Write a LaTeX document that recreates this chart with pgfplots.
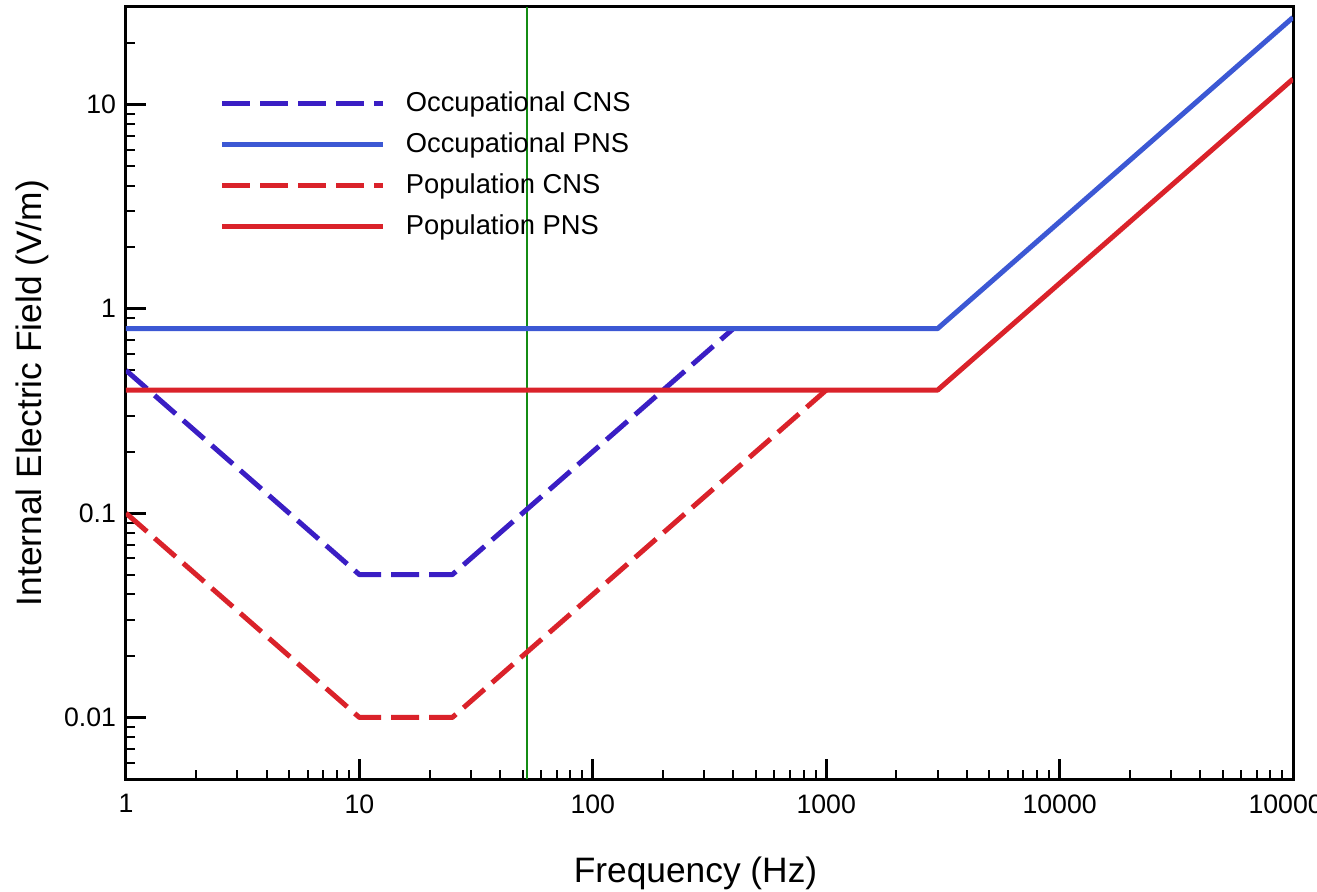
\documentclass[border=0pt]{standalone}
\usepackage{fontspec}
\setmainfont{Liberation Sans}
\usepackage{pgfplots}
\pgfplotsset{compat=1.18}
\definecolor{occcns}{RGB}{58,30,196}
\definecolor{occpns}{RGB}{60,88,212}
\definecolor{popred}{RGB}{218,34,42}
\definecolor{vgreen}{RGB}{20,140,20}
\begin{document}
\begin{tikzpicture}
\path[use as bounding box] (-94.5pt,-84.75pt) rectangle (893.25pt,584.25pt);
\begin{axis}[
  at={(0,0)}, anchor=south west,
  scale only axis, width=875.25pt, height=579pt,
  xmode=log, ymode=log,
  xmin=1, xmax=100000, ymin=0.005, ymax=30,
  axis line style={line width=2.25pt},
  tick align=inside,
  xtick pos=bottom, ytick pos=left,
  major tick length=15pt, minor tick length=7pt,
  every tick/.style={black},
  major tick style={line width=2.25pt},
  minor tick style={line width=1.5pt},
  xtick={1,10,100,1000,10000,100000},
  xticklabels={1,10,100,1000,10000,100000},
  ytick={0.01,0.1,1,10},
  yticklabels={0.01,0.1,1,10},
  minor xtick={2,3,4,5,6,7,8,9,20,30,40,50,60,70,80,90,200,300,400,500,600,700,800,900,2000,3000,4000,5000,6000,7000,8000,9000,20000,30000,40000,50000,60000,70000,80000,90000},
  minor ytick={0.006,0.007,0.008,0.009,0.02,0.03,0.04,0.05,0.06,0.07,0.08,0.09,0.2,0.3,0.4,0.5,0.6,0.7,0.8,0.9,2,3,4,5,6,7,8,9,20},
  /pgf/number format/assume math mode=true,
  ticklabel style={font=\fontsize{20}{24}\selectfont},
  xticklabel style={yshift=-8pt},
  yticklabel style={xshift=-4pt},
  xlabel={Frequency (Hz)},
  ylabel={Internal Electric Field (V/m)},
  label style={font=\fontsize{26.5}{30}\selectfont},
  xlabel style={at={(axis description cs:0.488,-0.1347)}, anchor=base},
  ylabel style={at={(axis description cs:-0.072,0.5)}, anchor=base, rotate=0},
  legend image code/.code={\draw[#1] (0pt,0pt) -- (121pt,0pt); \path (136pt,0pt);},
  legend style={at={(axis description cs:0.0765,0.7947)}, anchor=west, draw=none, fill=none,
    font=\fontsize{20.5}{24}\selectfont, row sep=11.75pt,
    nodes={inner sep=0pt, text height=15pt, text depth=4pt}},
  legend cell align=left,
]
\addplot[vgreen, line width=1.5pt, forget plot] coordinates {(52,0.005) (52,30)};
\addplot[occcns, line width=3.75pt, line join=round, dash pattern=on 21pt off 7.5pt] coordinates {(1,0.5) (10,0.05) (25,0.05) (400,0.8)};
\addlegendentry{Occupational CNS}
\addplot[occpns, line width=3.75pt, line join=round] coordinates {(1,0.8) (3000,0.8) (100000,26.67)};
\addlegendentry{Occupational PNS}
\addplot[popred, line width=3.75pt, line join=round, dash pattern=on 21pt off 7.5pt] coordinates {(1,0.1) (10,0.01) (25,0.01) (1000,0.4)};
\addlegendentry{Population CNS}
\addplot[popred, line width=3.75pt, line join=round] coordinates {(1,0.4) (3000,0.4) (100000,13.33)};
\addlegendentry{Population PNS}
\end{axis}
\end{tikzpicture}
\end{document}
